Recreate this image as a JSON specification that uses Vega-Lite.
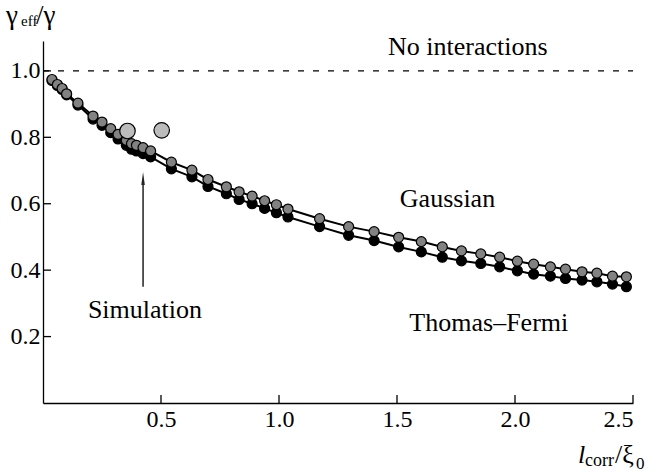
{
  "$schema": "https://vega.github.io/schema/vega-lite/v6.json",
  "width": 590,
  "height": 362,
  "autosize": {"type": "none"},
  "padding": {"left": 43, "top": 41, "right": 17, "bottom": 70},
  "background": "white",
  "config": {
    "view": {"stroke": null},
    "font": "Liberation Serif",
    "axis": {
      "labelFont": "Liberation Serif",
      "labelFontSize": 24,
      "labelColor": "black",
      "domainColor": "black",
      "domainWidth": 1.3,
      "ticks": false,
      "grid": false
    },
    "axisX": {"labelPadding": 4},
    "axisY": {"labelPadding": 3}
  },
  "datasets": {
    "curves": [
      {"x": 0.038, "y": 0.971, "model": "Thomas–Fermi"},
      {"x": 0.061, "y": 0.956, "model": "Thomas–Fermi"},
      {"x": 0.081, "y": 0.944, "model": "Thomas–Fermi"},
      {"x": 0.100, "y": 0.928, "model": "Thomas–Fermi"},
      {"x": 0.148, "y": 0.897, "model": "Thomas–Fermi"},
      {"x": 0.212, "y": 0.855, "model": "Thomas–Fermi"},
      {"x": 0.250, "y": 0.836, "model": "Thomas–Fermi"},
      {"x": 0.287, "y": 0.814, "model": "Thomas–Fermi"},
      {"x": 0.318, "y": 0.795, "model": "Thomas–Fermi"},
      {"x": 0.353, "y": 0.776, "model": "Thomas–Fermi"},
      {"x": 0.375, "y": 0.764, "model": "Thomas–Fermi"},
      {"x": 0.396, "y": 0.759, "model": "Thomas–Fermi"},
      {"x": 0.424, "y": 0.751, "model": "Thomas–Fermi"},
      {"x": 0.456, "y": 0.741, "model": "Thomas–Fermi"},
      {"x": 0.544, "y": 0.705, "model": "Thomas–Fermi"},
      {"x": 0.631, "y": 0.681, "model": "Thomas–Fermi"},
      {"x": 0.699, "y": 0.652, "model": "Thomas–Fermi"},
      {"x": 0.777, "y": 0.630, "model": "Thomas–Fermi"},
      {"x": 0.831, "y": 0.613, "model": "Thomas–Fermi"},
      {"x": 0.886, "y": 0.600, "model": "Thomas–Fermi"},
      {"x": 0.939, "y": 0.586, "model": "Thomas–Fermi"},
      {"x": 0.989, "y": 0.573, "model": "Thomas–Fermi"},
      {"x": 1.038, "y": 0.560, "model": "Thomas–Fermi"},
      {"x": 1.172, "y": 0.531, "model": "Thomas–Fermi"},
      {"x": 1.295, "y": 0.505, "model": "Thomas–Fermi"},
      {"x": 1.403, "y": 0.489, "model": "Thomas–Fermi"},
      {"x": 1.507, "y": 0.470, "model": "Thomas–Fermi"},
      {"x": 1.603, "y": 0.455, "model": "Thomas–Fermi"},
      {"x": 1.692, "y": 0.439, "model": "Thomas–Fermi"},
      {"x": 1.773, "y": 0.428, "model": "Thomas–Fermi"},
      {"x": 1.855, "y": 0.420, "model": "Thomas–Fermi"},
      {"x": 1.935, "y": 0.410, "model": "Thomas–Fermi"},
      {"x": 2.010, "y": 0.398, "model": "Thomas–Fermi"},
      {"x": 2.079, "y": 0.388, "model": "Thomas–Fermi"},
      {"x": 2.150, "y": 0.382, "model": "Thomas–Fermi"},
      {"x": 2.214, "y": 0.375, "model": "Thomas–Fermi"},
      {"x": 2.284, "y": 0.370, "model": "Thomas–Fermi"},
      {"x": 2.347, "y": 0.365, "model": "Thomas–Fermi"},
      {"x": 2.413, "y": 0.358, "model": "Thomas–Fermi"},
      {"x": 2.472, "y": 0.350, "model": "Thomas–Fermi"},
      {"x": 0.038, "y": 0.974, "model": "Gaussian"},
      {"x": 0.061, "y": 0.959, "model": "Gaussian"},
      {"x": 0.081, "y": 0.947, "model": "Gaussian"},
      {"x": 0.100, "y": 0.931, "model": "Gaussian"},
      {"x": 0.148, "y": 0.903, "model": "Gaussian"},
      {"x": 0.212, "y": 0.864, "model": "Gaussian"},
      {"x": 0.250, "y": 0.846, "model": "Gaussian"},
      {"x": 0.287, "y": 0.826, "model": "Gaussian"},
      {"x": 0.318, "y": 0.809, "model": "Gaussian"},
      {"x": 0.353, "y": 0.791, "model": "Gaussian"},
      {"x": 0.375, "y": 0.781, "model": "Gaussian"},
      {"x": 0.396, "y": 0.776, "model": "Gaussian"},
      {"x": 0.424, "y": 0.769, "model": "Gaussian"},
      {"x": 0.456, "y": 0.759, "model": "Gaussian"},
      {"x": 0.544, "y": 0.725, "model": "Gaussian"},
      {"x": 0.631, "y": 0.701, "model": "Gaussian"},
      {"x": 0.699, "y": 0.673, "model": "Gaussian"},
      {"x": 0.777, "y": 0.651, "model": "Gaussian"},
      {"x": 0.831, "y": 0.636, "model": "Gaussian"},
      {"x": 0.886, "y": 0.623, "model": "Gaussian"},
      {"x": 0.939, "y": 0.609, "model": "Gaussian"},
      {"x": 0.989, "y": 0.597, "model": "Gaussian"},
      {"x": 1.038, "y": 0.584, "model": "Gaussian"},
      {"x": 1.172, "y": 0.555, "model": "Gaussian"},
      {"x": 1.295, "y": 0.531, "model": "Gaussian"},
      {"x": 1.403, "y": 0.516, "model": "Gaussian"},
      {"x": 1.507, "y": 0.499, "model": "Gaussian"},
      {"x": 1.603, "y": 0.486, "model": "Gaussian"},
      {"x": 1.692, "y": 0.470, "model": "Gaussian"},
      {"x": 1.773, "y": 0.458, "model": "Gaussian"},
      {"x": 1.855, "y": 0.449, "model": "Gaussian"},
      {"x": 1.935, "y": 0.439, "model": "Gaussian"},
      {"x": 2.010, "y": 0.427, "model": "Gaussian"},
      {"x": 2.079, "y": 0.418, "model": "Gaussian"},
      {"x": 2.150, "y": 0.410, "model": "Gaussian"},
      {"x": 2.214, "y": 0.403, "model": "Gaussian"},
      {"x": 2.284, "y": 0.395, "model": "Gaussian"},
      {"x": 2.347, "y": 0.391, "model": "Gaussian"},
      {"x": 2.413, "y": 0.382, "model": "Gaussian"},
      {"x": 2.472, "y": 0.380, "model": "Gaussian"}
    ],
    "simulation": [
      {"x": 0.358, "y": 0.819},
      {"x": 0.503, "y": 0.821}
    ],
    "xticks": [{"t": 0.5}, {"t": 1.0}, {"t": 1.5}, {"t": 2.0}, {"t": 2.5}],
    "yticks": [{"t": 0.2}, {"t": 0.4}, {"t": 0.6}, {"t": 0.8}, {"t": 1.0}],
    "one": [{}]
  },
  "layer": [
    {
      "data": {"name": "curves"},
      "mark": {"type": "line", "color": "black", "strokeWidth": 2},
      "encoding": {
        "x": {
          "field": "x", "type": "quantitative",
          "scale": {"domain": [0, 2.5], "nice": false, "zero": false},
          "axis": {"title": null, "values": [0.5, 1, 1.5, 2, 2.5], "format": ".1f"}
        },
        "y": {
          "field": "y", "type": "quantitative",
          "scale": {"domain": [0, 1.09], "nice": false, "zero": false},
          "axis": {"title": null, "values": [0.2, 0.4, 0.6, 0.8, 1.0], "format": ".1f"}
        },
        "detail": {"field": "model"}
      }
    },
    {
      "data": {"name": "xticks"},
      "mark": {"type": "rule", "color": "black", "strokeWidth": 1.3},
      "encoding": {
        "x": {"field": "t", "type": "quantitative"},
        "y": {"datum": 0},
        "y2": {"datum": 0.024}
      }
    },
    {
      "data": {"name": "yticks"},
      "mark": {"type": "rule", "color": "black", "strokeWidth": 1.3},
      "encoding": {
        "y": {"field": "t", "type": "quantitative"},
        "x": {"datum": 0},
        "x2": {"datum": 0.034}
      }
    },
    {
      "data": {"name": "curves"},
      "mark": {"type": "point", "shape": "circle", "filled": true, "size": 100, "stroke": "black", "strokeWidth": 1.2, "opacity": 1},
      "encoding": {
        "x": {"field": "x", "type": "quantitative"},
        "y": {"field": "y", "type": "quantitative"},
        "fill": {
          "field": "model", "type": "nominal",
          "scale": {"domain": ["Thomas–Fermi", "Gaussian"], "range": ["#000000", "#828282"]},
          "legend": null
        }
      }
    },
    {
      "data": {"name": "simulation"},
      "mark": {"type": "point", "shape": "circle", "filled": true, "size": 240, "fill": "#bcbcbc", "stroke": "black", "strokeWidth": 1.2, "opacity": 1},
      "encoding": {
        "x": {"field": "x", "type": "quantitative"},
        "y": {"field": "y", "type": "quantitative"}
      }
    },
    {
      "data": {"name": "one"},
      "mark": {"type": "rule", "color": "black", "strokeWidth": 1.2, "strokeDash": [6, 9]},
      "encoding": {"x": {"datum": 0}, "x2": {"datum": 2.5}, "y": {"datum": 1.0}}
    },
    {
      "data": {"name": "one"},
      "mark": {"type": "rule", "color": "#222222", "strokeWidth": 1.5},
      "encoding": {"x": {"datum": 0.424}, "y": {"datum": 0.35}, "y2": {"datum": 0.67}}
    },
    {
      "data": {"name": "one"},
      "mark": {"type": "point", "shape": "M0,-1L0.27,1L-0.27,1Z", "filled": true, "fill": "#222222", "strokeWidth": 0, "size": 169, "opacity": 1},
      "encoding": {"x": {"datum": 0.424}, "y": {"datum": 0.676}}
    },
    {
      "data": {"name": "one"},
      "mark": {"type": "text", "fontSize": 26, "font": "Liberation Serif", "align": "center", "baseline": "alphabetic", "color": "black"},
      "encoding": {"x": {"datum": 1.80}, "y": {"datum": 1.047}, "text": {"value": "No interactions"}}
    },
    {
      "data": {"name": "one"},
      "mark": {"type": "text", "fontSize": 26, "font": "Liberation Serif", "align": "center", "baseline": "alphabetic", "color": "black"},
      "encoding": {"x": {"datum": 1.714}, "y": {"datum": 0.590}, "text": {"value": "Gaussian"}}
    },
    {
      "data": {"name": "one"},
      "mark": {"type": "text", "fontSize": 26, "font": "Liberation Serif", "align": "center", "baseline": "alphabetic", "color": "black"},
      "encoding": {"x": {"datum": 1.889}, "y": {"datum": 0.218}, "text": {"value": "Thomas–Fermi"}}
    },
    {
      "data": {"name": "one"},
      "mark": {"type": "text", "fontSize": 26, "font": "Liberation Serif", "align": "center", "baseline": "alphabetic", "color": "black"},
      "encoding": {"x": {"datum": 0.432}, "y": {"datum": 0.257}, "text": {"value": "Simulation"}}
    },
    {
      "data": {"name": "one"},
      "mark": {"type": "text", "fontSize": 27, "font": "Liberation Serif", "align": "left", "baseline": "alphabetic", "dx": -37, "color": "black"},
      "encoding": {"x": {"datum": 0}, "y": {"datum": 1.1397}, "text": {"value": "γ"}}
    },
    {
      "data": {"name": "one"},
      "mark": {"type": "text", "fontSize": 15, "font": "Liberation Serif", "align": "left", "baseline": "alphabetic", "dx": -22, "dy": 2, "color": "black"},
      "encoding": {"x": {"datum": 0}, "y": {"datum": 1.1397}, "text": {"value": "eff"}}
    },
    {
      "data": {"name": "one"},
      "mark": {"type": "text", "fontSize": 27, "font": "Liberation Serif", "align": "left", "baseline": "alphabetic", "dx": -7, "color": "black"},
      "encoding": {"x": {"datum": 0}, "y": {"datum": 1.1397}, "text": {"value": "/γ"}}
    },
    {
      "data": {"name": "one"},
      "mark": {"type": "text", "fontSize": 26, "font": "Liberation Serif", "fontStyle": "italic", "align": "left", "baseline": "alphabetic", "dx": -55, "dy": 60, "color": "black"},
      "encoding": {"x": {"datum": 2.5}, "y": {"datum": 0}, "text": {"value": "l"}}
    },
    {
      "data": {"name": "one"},
      "mark": {"type": "text", "fontSize": 18, "font": "Liberation Serif", "align": "left", "baseline": "alphabetic", "dx": -48, "dy": 63, "color": "black"},
      "encoding": {"x": {"datum": 2.5}, "y": {"datum": 0}, "text": {"value": "corr"}}
    },
    {
      "data": {"name": "one"},
      "mark": {"type": "text", "fontSize": 26, "font": "Liberation Serif", "align": "left", "baseline": "alphabetic", "dx": -18, "dy": 60, "color": "black"},
      "encoding": {"x": {"datum": 2.5}, "y": {"datum": 0}, "text": {"value": "/ξ"}}
    },
    {
      "data": {"name": "one"},
      "mark": {"type": "text", "fontSize": 17, "font": "Liberation Serif", "align": "left", "baseline": "alphabetic", "dx": 3, "dy": 66, "color": "black"},
      "encoding": {"x": {"datum": 2.5}, "y": {"datum": 0}, "text": {"value": "0"}}
    }
  ]
}
